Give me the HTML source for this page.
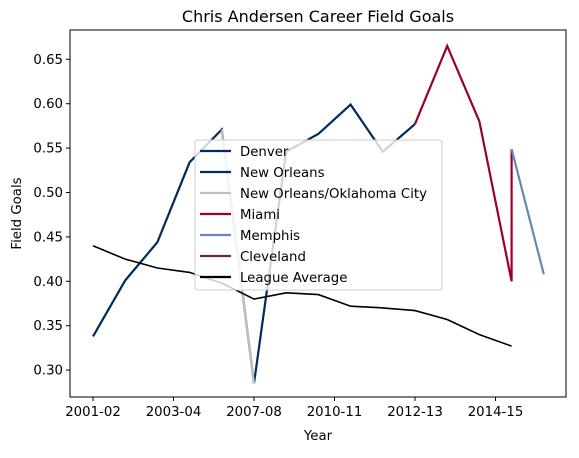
<!DOCTYPE html>
<html><head><meta charset="utf-8"><style>
body{margin:0;background:#fff;}
svg{font-family:"DejaVu Sans","Liberation Sans",sans-serif;}
</style></head><body>
<svg id="chart" width="579" height="453" xmlns="http://www.w3.org/2000/svg">
<rect width="579" height="453" fill="#fff"/>
<g id="marks"></g>
<g id="axes"></g>
<g id="legend"></g>
</svg>
<script>
const yTicks = [0.30,0.35,0.40,0.45,0.50,0.55,0.60,0.65];
const xTickPos = [0,2.5,5,7.5,10,12.5];
const xTickLabels = ["2001-02","2003-04","2007-08","2010-11","2012-13","2014-15"];
const denverX = [0,1,2,3,4,5,6,7,8,9,10];
const denverY = [0.338,0.401,0.444,0.534,0.571,0.285,0.546,0.566,0.599,0.546,0.577];
const nookcX = [4,5];
const nookcY = [0.571,0.285];
const miamiX = [10,11,12,13,13];
const miamiY = [0.577,0.665,0.580,0.400,0.549];
const memphisX = [13,14];
const memphisY = [0.549,0.408];
const leagueX = [0,1,2,3,4,5,6,7,8,9,10,11,12,13];
const leagueY = [0.440,0.425,0.415,0.410,0.398,0.380,0.387,0.385,0.372,0.370,0.367,0.357,0.340,0.327];
const legendLabels = ["Denver","New Orleans","New Orleans/Oklahoma City","Miami","Memphis","Cleveland","League Average"];
const legendColors = ["#002B5C","#002B5C","#BEC0C2","#98002E","#6189B9","#6F263D","#000000"];

const NS="http://www.w3.org/2000/svg";
const L=70,R=566,T=30,B=397;
function xs(i){return 93+i*32.2;}
function ys(v){return 59.3+(0.65-v)*888;}
function mk(tag,attrs,parent){const e=document.createElementNS(NS,tag);for(const k in attrs)e.setAttribute(k,attrs[k]);parent.appendChild(e);return e;}
const marks=document.getElementById('marks'),axes=document.getElementById('axes'),leg=document.getElementById('legend');
function line(X,Y,color,w,name){
  const d=X.map((x,i)=>(i?'L':'M')+xs(x).toFixed(1)+' '+ys(Y[i]).toFixed(1)).join(' ');
  const p=mk('path',{d:d,fill:'none',stroke:color,'stroke-width':w,'stroke-linejoin':'miter'},marks);
  
  
}
line(denverX,denverY,"#002B5C",2.2,'denver-line');
line(nookcX,nookcY,"#BEC0C2",2.2,'new-orleans-okc-line');
line(miamiX,miamiY,"#98002E",2.2,'miami-line');
line(memphisX,memphisY,"#6189B9",2.2,'memphis-line');
line(leagueX,leagueY,"#000000",1.6,'league-average-line');

const frame=mk('rect',{x:L,y:T,width:R-L,height:B-T,fill:'none',stroke:'#000','stroke-width':1},axes);


yTicks.forEach(v=>{
  const y=ys(v);
  mk('line',{x1:L-4,x2:L,y1:y,y2:y,stroke:'#000'},axes);
  const t=mk('text',{x:L-7,y:y+4.5,'text-anchor':'end','font-size':13.3},axes);
  t.textContent=v.toFixed(2);
  
  
});
xTickPos.forEach((p,i)=>{
  const x=xs(p);
  mk('line',{x1:x,x2:x,y1:B,y2:B+4,stroke:'#000'},axes);
  const t=mk('text',{x:x,y:B+19,'text-anchor':'middle','font-size':13.3},axes);
  t.textContent=xTickLabels[i];
  
  
});
let t=mk('text',{x:(L+R)/2,y:22,'text-anchor':'middle','font-size':16},axes);t.textContent='Chris Andersen Career Field Goals';


t=mk('text',{x:(L+R)/2,y:440,'text-anchor':'middle','font-size':13.3},axes);t.textContent='Year';


t=mk('text',{x:21,y:(T+B)/2,'text-anchor':'middle','font-size':13.3,transform:'rotate(-90 21 '+((T+B)/2)+')'},axes);t.textContent='Field Goals';



const box=mk('rect',{x:195,y:140,width:247,height:150,rx:3,fill:'#fff','fill-opacity':0.8,stroke:'#ccc','stroke-width':1},leg);


legendLabels.forEach((lab,i)=>{
  const y=151+i*21;
  mk('line',{x1:200,x2:231,y1:y,y2:y,stroke:legendColors[i],'stroke-width':2.2},leg);
  const tt=mk('text',{x:240,y:y+5,'font-size':13.3},leg);tt.textContent=lab;
  
  
});
</script>
</body></html>
